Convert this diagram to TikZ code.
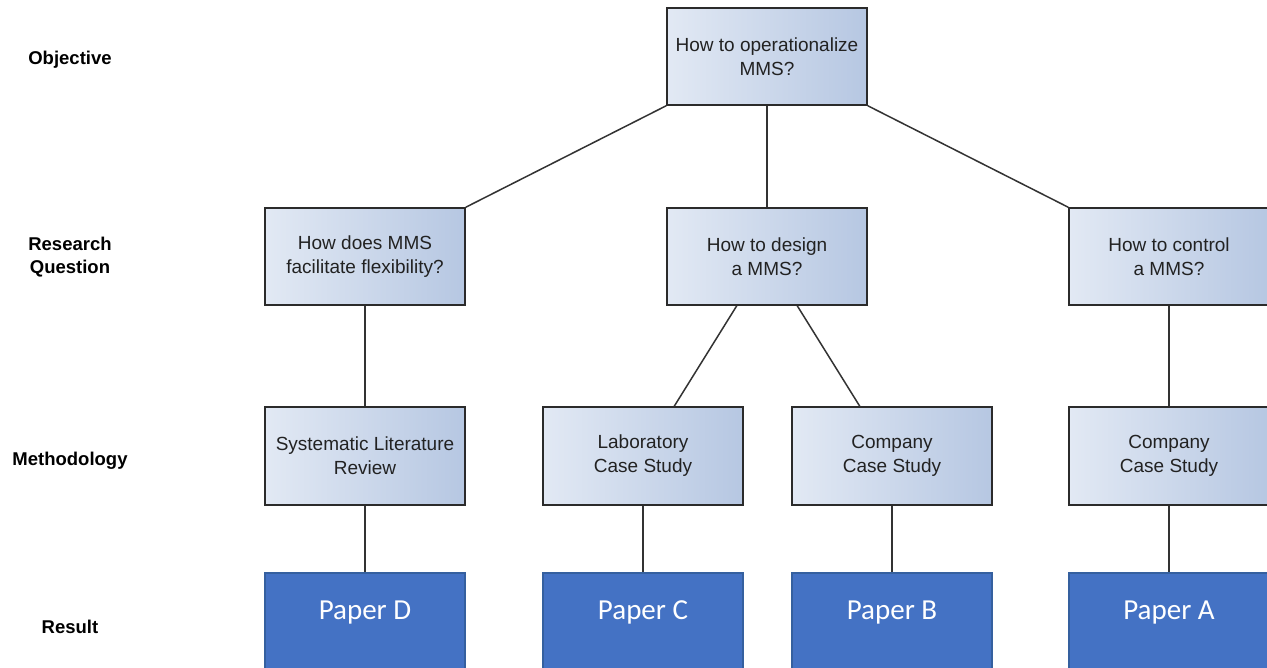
\documentclass[tikz,border=0pt]{standalone}
\usepackage{fontspec}
\setmainfont{Liberation Sans}
\newfontfamily\paperfont{Carlito}
\usetikzlibrary{calc}

\definecolor{boxline}{HTML}{2B2B2B}
\definecolor{linkgray}{HTML}{333333}
\definecolor{qleft}{RGB}{226,233,244}
\definecolor{qright}{RGB}{182,199,226}
\definecolor{qtext}{HTML}{222222}
\definecolor{paperblue}{HTML}{4472C4}
\definecolor{paperline}{HTML}{35609F}

\begin{document}
\begin{tikzpicture}[x=1pt,y=-1pt,
  qbox/.style={draw=boxline, line width=1.5pt, left color=qleft, right color=qright,
    minimum width=200pt, minimum height=97pt, inner sep=0pt, align=center,
    text=qtext, font=\fontsize{19}{24}\selectfont},
  paperbox/.style={draw=paperline, line width=1.5pt, fill=paperblue,
    minimum width=200pt, minimum height=110pt, inner sep=0pt},
  papertext/.style={text=white, font=\paperfont\fontsize{29}{34}\selectfont},
  rowlabel/.style={font=\bfseries\fontsize{18.5}{23}\selectfont, align=center},
  link/.style={draw=linkgray, line width=1.5pt}]

\clip (0,0) rectangle (1267,668);
\fill[white] (0,0) rectangle (1267,668);

% row captions
\node[rowlabel, anchor=base] (lobj) at (70,65) {Objective};
\node[rowlabel] (lrq) at (70,257) {Research\\Question};
\node[rowlabel, anchor=base] (lmeth) at (70,465) {Methodology};
\node[rowlabel, anchor=base] (lres) at (70,633) {Result};

% objective
\node[qbox] (obj) at (767,56.5) {How to operationalize\\MMS?};

% research questions
\node[qbox] (rq1) at (365,256.5) {How does MMS\\facilitate flexibility?};
\node[qbox] (rq2) at (767,256.5) {How to design\\a MMS?};
\node[qbox] (rq3) at (1169,256.5) {How to control\\a MMS?};

% methodologies
\node[qbox, minimum height=98pt] (m1) at (365,456) {Systematic Literature\\Review};
\node[qbox, minimum height=98pt] (m2) at (643,456) {Laboratory\\Case Study};
\node[qbox, minimum height=98pt] (m3) at (892,456) {Company\\Case Study};
\node[qbox, minimum height=98pt] (m4) at (1169,456) {Company\\Case Study};

% results
\node[paperbox, label={[papertext, anchor=center, yshift=-40pt]north:Paper D}] (p1) at (365,628) {};
\node[paperbox, label={[papertext, anchor=center, yshift=-40pt]north:Paper C}] (p2) at (643,628) {};
\node[paperbox, label={[papertext, anchor=center, yshift=-40pt]north:Paper B}] (p3) at (892,628) {};
\node[paperbox, label={[papertext, anchor=center, yshift=-40pt]north:Paper A}] (p4) at (1169,628) {};

% connectors
\draw[link] (obj.south west) -- (rq1.north east);
\draw[link] (obj.south) -- (rq2.north);
\draw[link] (obj.south east) -- (rq3.north west);
\draw[link] (rq1.south) -- (m1.north);
\draw[link] ($(rq2.south west)!0.35!(rq2.south east)$) -- ($(m2.north west)!0.655!(m2.north east)$);
\draw[link] ($(rq2.south west)!0.65!(rq2.south east)$) -- ($(m3.north west)!0.34!(m3.north east)$);
\draw[link] (rq3.south) -- (m4.north);
\draw[link] (m1.south) -- (p1.north);
\draw[link] (m2.south) -- (p2.north);
\draw[link] (m3.south) -- (p3.north);
\draw[link] (m4.south) -- (p4.north);
\end{tikzpicture}
\end{document}
